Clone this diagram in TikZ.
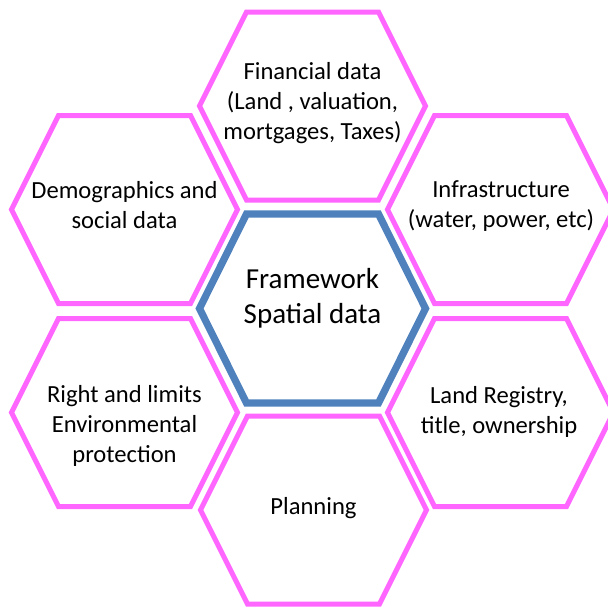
\documentclass[tikz,border=0pt]{standalone}
\usepackage{fontspec}
\setmainfont{Carlito}
\usetikzlibrary{positioning}

\definecolor{hexpink}{RGB}{255,102,255}
\definecolor{hexblue}{RGB}{79,129,189}

\tikzset{
  cell/.style={draw=hexpink, line width=2.5pt},
  core/.style={draw=hexblue, line width=3.6pt},
  celltext/.style={align=center, font=\fontsize{12.3}{15}\selectfont},
  coretext/.style={align=center, font=\fontsize{14.5}{17.5}\selectfont}
}

\begin{document}
\begin{tikzpicture}[x=0.5pt,y=0.5pt]
  \useasboundingbox (0,0) rectangle (608,607);
  % outer ring of cells
  \foreach \n/\x/\y in {fin/312.5/501, demo/124.5/397.5, infra/500.5/397.5,
                        right/124.5/194.5, land/500.5/194.5, plan/313.5/97}
  {
    \coordinate (\n) at (\x,\y);
    \draw[cell] (\n) +(-113,0) -- +(-66,94) -- +(66,94) -- +(113,0)
                     -- +(66,-94) -- +(-66,-94) -- cycle;
  }
  % middle cell
  \coordinate (frame) at (312.5,298.5);
  \draw[core] (frame) +(-113,0) -- +(-66,94.5) -- +(66,94.5) -- +(113,0)
                      -- +(66,-94.5) -- +(-66,-94.5) -- cycle;

  \node[coretext] (framelabel) at (312.5,309) {Framework\\Spatial data};
  \node[celltext] (finlabel) at (312.5,504) {Financial data\\(Land , valuation,\\mortgages, Taxes)};
  \node[celltext] (demolabel) at (124.5,401.5) {Demographics and\\social data};
  \node[celltext] (infralabel) at (501,400.5) {Infrastructure\\(water, power, etc)};
  \node[celltext] (rightlabel) at (124.5,181.5) {Right and limits\\Environmental\\protection};
  \node[celltext] (landlabel) at (499,195) {Land Registry,\\title, ownership};
  \node[celltext] (planlabel) at (313.5,98.5) {Planning};
\end{tikzpicture}
\end{document}
